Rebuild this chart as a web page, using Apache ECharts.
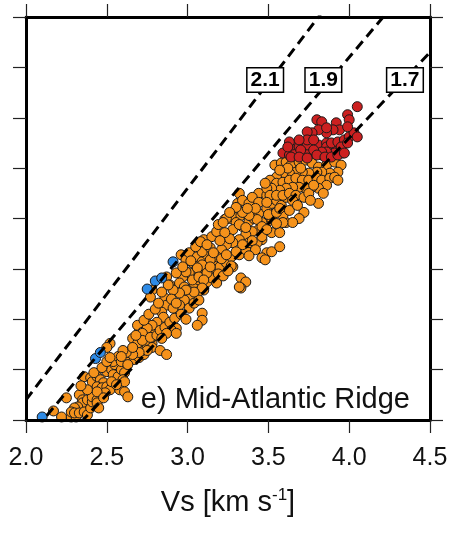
<!DOCTYPE html>
<html><head><meta charset="utf-8">
<script src="https://cdn.jsdelivr.net/npm/echarts@6/dist/echarts.min.js"></script>
<style>html,body{margin:0;padding:0;background:#fff;}#c{width:458px;height:536px;}</style>
</head><body><div id="c"></div>
<script>
// Axis ranges / ticks
const xMin = 2.0, xMax = 4.5, xStep = 0.5;
const yMin = 4.0, yMax = 8.0, yStep = 0.5;
const xTickLabels = ['2.0','2.5','3.0','3.5','4.0','4.5'];
// Vp/Vs reference lines
const ratios = [2.1, 1.9, 1.7];
const ratioLabels = ['2.1', '1.9', '1.7'];
const ratioLabelVs = [3.48, 3.84, 4.345];
const ratioLabelVp = 7.375;
const panelTitle = 'e) Mid-Atlantic Ridge';

// [Vs, Vp] samples
const orangePts = [
[2.17,4.09],[2.22,4.03],[2.28,4.03],[2.31,4.03],[2.25,4.22],[2.33,4.25],[2.35,4.20],[2.35,4.17],[2.32,4.13],[2.30,4.12],
[2.28,4.08],[2.30,4.07],[2.33,4.07],[2.36,4.08],[2.38,4.05],[2.40,4.12],[2.38,4.20],[2.41,4.18],[2.41,4.23],[2.44,4.20],
[2.44,4.17],[2.36,4.43],[2.40,4.42],[2.41,4.38],[2.44,4.43],[2.46,4.40],[2.48,4.37],[2.44,4.33],[2.47,4.32],[2.50,4.33],
[2.52,4.30],[2.49,4.27],[2.44,4.28],[2.50,4.48],[2.53,4.50],[2.55,4.55],[2.56,4.60],[2.54,4.45],[2.57,4.43],[2.59,4.50],
[2.61,4.47],[2.60,4.40],[2.58,4.30],[2.61,4.28],[2.63,4.23],[2.61,4.38],[2.54,4.58],[2.57,4.63],[2.59,4.58],[2.62,4.62],
[2.64,4.67],[2.61,4.67],[2.65,4.69],[2.69,4.67],[2.70,4.71],[2.67,4.60],[2.70,4.62],[2.73,4.65],[2.72,4.69],[2.75,4.72],
[2.78,4.76],[2.75,4.79],[2.78,4.82],[2.81,4.87],[2.78,4.91],[2.81,4.94],[2.75,4.96],[2.70,4.92],[2.69,4.94],[2.72,4.87],
[2.52,4.76],[2.50,4.72],
[2.87,5.42],[2.78,5.29],[2.77,5.22],[2.89,5.34],[2.86,5.21],[2.87,5.14],[2.84,5.07],[2.85,5.02],[2.81,4.97],[2.78,4.94],
[2.75,4.91],[2.72,4.86],[2.66,4.81],[2.69,4.76],[2.72,4.79],[2.77,4.82],[2.81,4.84],[2.83,4.89],[2.86,4.92],[2.89,4.97],
[2.92,5.01],[2.93,4.91],[2.90,4.89],[2.87,4.86],[2.84,4.81],[2.78,4.72],[2.75,4.69],[2.70,4.67],[2.66,4.65],[2.62,4.67],
[2.60,4.69],[2.59,4.63],[2.83,4.69],[2.87,4.65],[2.93,4.86],[2.96,5.64],[2.99,5.59],[3.01,5.66],[3.03,5.56],[3.06,5.62],
[3.09,5.57],[3.12,5.64],[3.15,5.61],[3.18,5.54],[3.15,5.49],[3.10,5.49],[3.06,5.49],[3.01,5.46],[2.97,5.42],[2.95,5.36],
[2.98,5.32],[3.01,5.29],[3.04,5.36],[3.07,5.39],[3.12,5.37],[3.15,5.41],[3.18,5.36],[3.10,5.29],[3.06,5.26],[3.02,5.22],
[2.98,5.19],[2.95,5.14],[2.91,5.11],[3.01,5.11],[3.04,5.16],[3.07,5.19],[3.09,5.06],[3.09,4.99],[3.06,4.94],[2.99,5.47],
[3.09,5.67],[3.14,5.71],[3.10,5.79],[3.15,5.82],[3.18,5.87],[3.19,5.94],[3.23,5.99],[3.26,6.00],[3.29,6.01],[3.33,6.03],
[3.36,6.05],[3.30,5.96],[3.34,5.92],[3.38,5.97],[3.41,6.00],[3.44,6.05],[3.49,6.10],[3.52,6.15],[3.55,6.18],[3.58,6.13],
[3.61,6.21],[3.49,5.96],[3.52,6.00],[3.44,5.89],[3.40,5.87],[3.36,5.84],[3.32,5.79],[3.28,5.76],[3.24,5.74],[3.21,5.69],
[3.18,5.62],[3.14,5.59],[3.09,5.54],[3.06,5.51],[3.03,5.39],[3.07,5.42],[3.12,5.46],[3.20,5.52],[3.24,5.56],[3.27,5.62],
[3.32,5.64],[3.36,5.69],[3.38,5.76],[3.34,5.74],[3.30,5.67],[3.28,5.52],[3.33,5.41],[3.36,5.37],[3.33,5.31],[3.10,5.39],
[3.09,5.31],[3.04,5.27],[2.99,5.29],[2.95,5.26],[2.91,5.29],[2.88,5.34],[3.49,5.66],[3.52,5.67],[3.57,5.72],[3.46,5.61],
[3.61,5.96],[3.59,6.03],[3.52,5.86],[3.57,5.86],[3.46,5.79],[3.43,5.76],[3.32,6.25],[3.31,6.15],[3.34,6.18],[3.38,6.15],
[3.43,6.20],[3.44,6.25],[3.49,6.23],[3.52,6.25],[3.57,6.26],[3.62,6.26],
[3.54,6.53],[3.58,6.55],[3.61,6.56],[3.64,6.53],[3.69,6.56],[3.73,6.58],[3.77,6.55],[3.81,6.51],[3.86,6.53],[3.91,6.56],
[3.95,6.53],[3.93,6.46],[3.88,6.45],[3.83,6.46],[3.80,6.46],[3.75,6.45],[3.71,6.46],[3.67,6.46],[3.63,6.45],[3.59,6.45],
[3.55,6.41],[3.51,6.38],[3.55,6.35],[3.59,6.36],[3.63,6.38],[3.67,6.40],[3.71,6.38],[3.75,6.38],[3.80,6.40],[3.83,6.38],
[3.88,6.40],[3.91,6.41],[3.86,6.33],[3.81,6.30],[3.77,6.31],[3.73,6.30],[3.69,6.31],[3.65,6.31],[3.61,6.30],[3.57,6.28],
[3.52,6.30],[3.49,6.30],[3.51,6.23],[3.55,6.23],[3.59,6.23],[3.63,6.25],[3.67,6.23],[3.72,6.21],[3.75,6.25],[3.81,6.15],
[3.93,6.38],[3.40,6.21],[3.44,6.16],[3.49,6.16],[3.63,6.08],[3.72,6.06],[3.69,6.00],[3.65,5.96],[3.59,5.96],[3.46,5.96],
[3.43,5.99],[3.38,6.03],[3.34,6.06],[3.30,6.11],[3.24,6.00],[3.22,5.96],[3.28,5.89],[3.32,5.94],[3.36,5.91],[3.46,5.82],
[3.32,5.32],[3.27,5.53],[3.48,5.59],
[2.63,4.55],[2.66,4.72],[2.68,4.84],[2.73,4.99],[2.76,5.05],[2.80,5.10],[2.82,5.16],[2.84,5.27],[2.90,5.20],[2.93,5.16],
[2.96,5.05],[2.99,5.00],[2.93,5.46],[2.97,5.52],[3.02,5.58],[3.05,5.72],[3.08,5.77],[3.12,5.74],[3.16,5.66],[3.21,5.60],
[3.24,5.64],[3.26,5.80],[3.23,5.86],[3.20,5.78],[3.14,5.52],[3.19,5.45],[3.22,5.43],[3.25,5.48],[3.40,5.78],[3.42,5.69],
[3.38,5.63],[3.46,5.92],[3.50,6.04],[3.55,6.06],[3.55,5.95],[3.49,5.89],[3.42,6.10],[3.37,6.10],[3.26,6.06],[3.57,6.10],
[3.65,6.18],[3.68,6.13],[3.76,6.18],[3.78,6.33],[3.84,6.25],[3.70,6.50],[3.62,6.50],[3.57,6.48],[3.48,6.35],[2.38,4.30],
[2.42,4.47],[2.47,4.52],[2.50,4.58],[2.52,4.62],[2.45,4.12],[2.48,4.22],[2.53,4.38],[2.56,4.35],[2.34,4.34]
];
const redPts = [
[3.59,6.65],[3.63,6.63],[3.67,6.66],[3.71,6.63],[3.75,6.65],[3.80,6.68],[3.83,6.63],[3.88,6.68],[3.92,6.71],[3.96,6.75],
[3.65,6.73],[3.69,6.71],[3.74,6.73],[3.81,6.73],[3.86,6.75],[3.91,6.65],[3.96,6.65],[3.63,6.76],[4.05,7.11],[3.99,7.03],
[4.00,6.98],[3.80,6.98],[3.83,6.96],[3.92,6.95],[3.94,6.88],[3.90,6.88],[3.86,6.85],[3.81,6.88],[3.77,6.85],[3.74,6.86],
[3.74,6.78],[3.69,6.78],[3.62,6.71],[3.78,6.78],[3.86,6.71],[3.89,6.75],[3.93,6.76],[3.97,6.78],[4.00,6.81],[4.03,6.85],
[4.05,6.81],[3.95,6.71],[3.86,6.66],[3.83,6.66],[3.78,6.68],[3.70,6.68],[3.64,6.61],[3.69,6.61],[3.74,6.60],[3.80,6.63],
[3.85,6.61],[3.89,6.61],[3.93,6.63],[3.97,6.65],[3.99,6.75],[3.86,6.90],[3.99,6.91]
];
const bluePts = [
[2.10,4.03],[2.43,4.61],[2.46,4.67],[2.75,5.30],[2.80,5.38],[2.84,5.41],[2.91,5.57]
];

const FONT = '"Liberation Sans", Arial, Helvetica, sans-serif';
const chart = echarts.init(document.getElementById('c'), null, {renderer: 'canvas'});

const frameLine = {show: true, onZero: false, lineStyle: {color: '#000', width: 3}};
const tickStyle = {show: true, inside: false, length: 13, lineStyle: {color: '#222', width: 1.2}};

const lineSeries = ratios.map(r => ({
  type: 'line',
  xAxisIndex: 0, yAxisIndex: 0,
  data: [[xMin, xMin * r], [xMax, xMax * r]],
  symbol: 'none',
  clip: true,
  silent: true,
  z: 5,
  lineStyle: {color: '#000', width: 3, type: [10, 6]}
}));

const labelSeries = {
  type: 'scatter',
  xAxisIndex: 0, yAxisIndex: 0,
  symbolSize: 1,
  itemStyle: {color: 'rgba(0,0,0,0)'},
  z: 8,
  silent: true,
  data: ratios.map((r, i) => ({name: ratioLabels[i], value: [ratioLabelVs[i], ratioLabelVp]})),
  label: {
    show: true, position: 'inside',
    formatter: p => p.name,
    fontSize: 21, fontWeight: 'bold', fontFamily: FONT, color: '#000',
    textBorderWidth: 0, textBorderColor: 'transparent', textShadowBlur: 0, opacity: 1,
    backgroundColor: '#fff', borderColor: '#000', borderWidth: 1.5,
    padding: [2, 3, 0, 3]
  }
};

function pts(data, color, z) {
  return {
    type: 'scatter', xAxisIndex: 0, yAxisIndex: 0,
    data: data, symbolSize: 10, z: z,
    itemStyle: {color: color, borderColor: '#1a1a1a', borderWidth: 1, opacity: 1}
  };
}

chart.setOption({
  animation: false,
  backgroundColor: '#fff',
  grid: {left: 26, top: 17, width: 404, height: 403, containLabel: false, outerBoundsMode: 'none'},
  xAxis: [
    {type: 'value', position: 'bottom', min: xMin, max: xMax, interval: xStep, z: 6,
     axisLine: frameLine, axisTick: tickStyle, splitLine: {show: false},
     axisLabel: {show: true, margin: 26, fontSize: 25, fontFamily: FONT, color: '#111',
                 showMinLabel: true, showMaxLabel: true,
                 formatter: v => xTickLabels[Math.round((v - xMin) / xStep)]},
     name: '{a|Vs [km s}{b|-1}{a|]}', nameLocation: 'middle', nameGap: 67,
     nameTextStyle: {rich: {
       a: {fontSize: 29, fontFamily: FONT, color: '#111', lineHeight: 32},
       b: {fontSize: 17, fontFamily: FONT, color: '#111', lineHeight: 20, verticalAlign: 'top'}
     }}},
    {type: 'value', position: 'top', min: xMin, max: xMax, interval: xStep, z: 6,
     axisLine: frameLine, axisTick: tickStyle, axisLabel: {show: false}, splitLine: {show: false}}
  ],
  yAxis: [
    {type: 'value', position: 'left', min: yMin, max: yMax, interval: yStep, z: 6,
     axisLine: frameLine, axisTick: tickStyle, axisLabel: {show: false}, splitLine: {show: false}},
    {type: 'value', position: 'right', min: yMin, max: yMax, interval: yStep, z: 6,
     axisLine: frameLine, axisTick: tickStyle, axisLabel: {show: false}, splitLine: {show: false}}
  ],
  series: [
    pts(orangePts, '#f5921b', 2),
    pts(redPts, '#cc2020', 3),
    pts(bluePts, '#2f8be6', 4),
    ...lineSeries,
    labelSeries
  ],
  graphic: [{
    type: 'text', x: 410, y: 400, z: 10,
    style: {text: panelTitle, fontSize: 29, fontFamily: FONT, fill: '#111', align: 'right', verticalAlign: 'middle'}
  }]
});
</script>
</body></html>
